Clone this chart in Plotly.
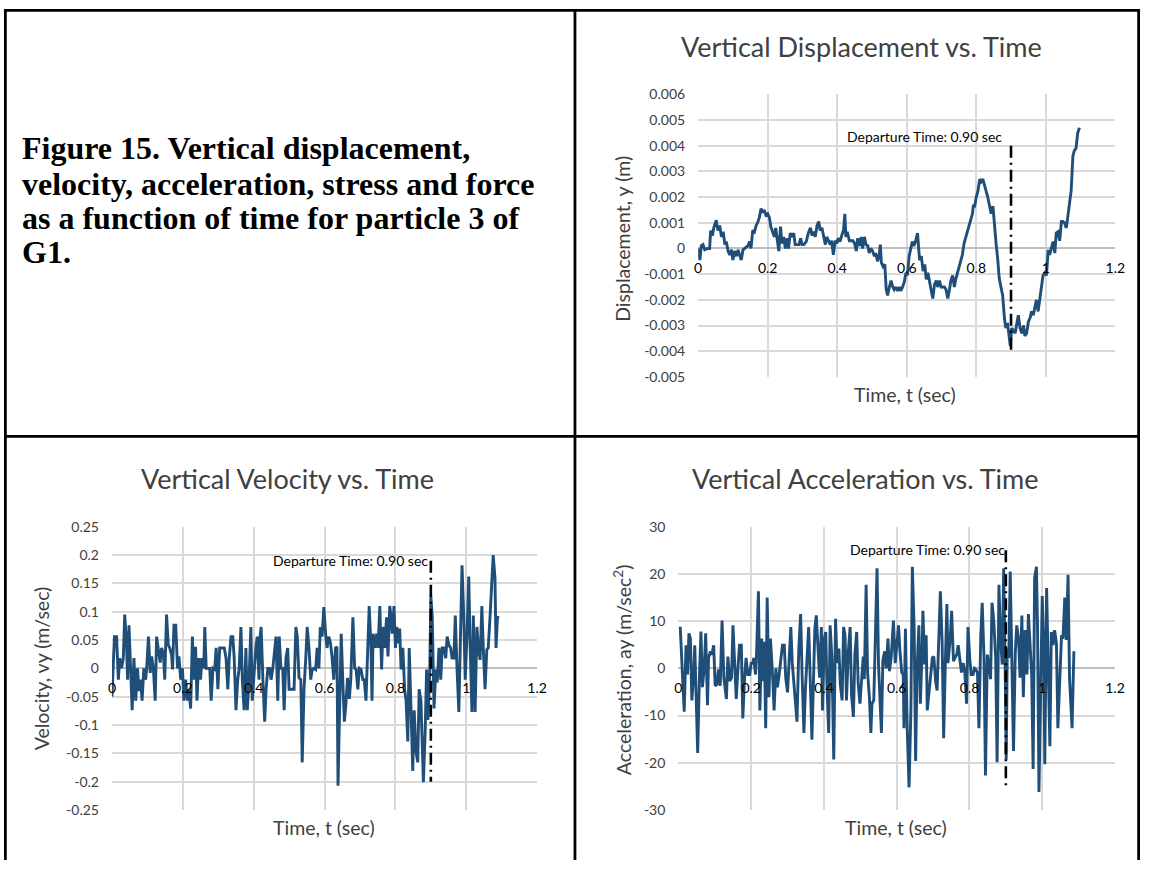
import plotly.graph_objects as go

# ---------------- data ----------------
# Vertical displacement (m) vs time (s)
disp_t = [0.000, 0.005, 0.009, 0.014, 0.019, 0.027, 0.033, 0.036, 0.041, 0.045, 0.052, 0.057, 0.062, 0.067,
          0.072, 0.077, 0.081, 0.086, 0.091, 0.096, 0.100, 0.105, 0.110, 0.115, 0.119, 0.124, 0.129, 0.135,
          0.143, 0.148, 0.152, 0.157, 0.162, 0.167, 0.171, 0.176, 0.181, 0.186, 0.190, 0.195, 0.200, 0.205,
          0.209, 0.214, 0.219, 0.223, 0.228, 0.232, 0.237, 0.241, 0.246, 0.251, 0.256, 0.260, 0.265, 0.270,
          0.275, 0.279, 0.285, 0.290, 0.295, 0.299, 0.304, 0.311, 0.317, 0.323, 0.328, 0.332, 0.337, 0.342,
          0.347, 0.351, 0.356, 0.361, 0.366, 0.370, 0.375, 0.380, 0.384, 0.389, 0.394, 0.399, 0.403, 0.408,
          0.413, 0.418, 0.422, 0.425, 0.429, 0.435, 0.439, 0.445, 0.450, 0.455, 0.459, 0.464, 0.469, 0.473,
          0.478, 0.483, 0.488, 0.492, 0.497, 0.502, 0.507, 0.511, 0.516, 0.521, 0.524, 0.527, 0.532, 0.537,
          0.541, 0.545, 0.550, 0.555, 0.560, 0.564, 0.569, 0.574, 0.579, 0.583, 0.588, 0.593, 0.598, 0.602,
          0.607, 0.612, 0.616, 0.621, 0.626, 0.631, 0.634, 0.637, 0.642, 0.647, 0.652, 0.656, 0.661, 0.666,
          0.670, 0.675, 0.680, 0.685, 0.689, 0.694, 0.699, 0.704, 0.708, 0.713, 0.718, 0.723, 0.727, 0.732,
          0.737, 0.741, 0.746, 0.751, 0.756, 0.760, 0.765, 0.770, 0.775, 0.779, 0.784, 0.789, 0.792, 0.795,
          0.800, 0.805, 0.810, 0.814, 0.819, 0.824, 0.829, 0.833, 0.838, 0.843, 0.848, 0.852, 0.857, 0.862,
          0.866, 0.871, 0.876, 0.881, 0.885, 0.890, 0.895, 0.898, 0.902, 0.907, 0.912, 0.917, 0.921, 0.926,
          0.931, 0.936, 0.940, 0.945, 0.950, 0.955, 0.959, 0.964, 0.969, 0.973, 0.978, 0.983, 0.988, 0.992,
          0.997, 1.002, 1.007, 1.011, 1.016, 1.021, 1.026, 1.030, 1.035, 1.040, 1.045, 1.049, 1.054, 1.059,
          1.063, 1.068, 1.073, 1.078, 1.082, 1.087, 1.092, 1.097]
disp_y = [0.0, -0.00045, 0.0001, 0.00015, -0.00005, 0.0, 0.0, 0.0007, 0.0005, 0.0008, 0.0011, 0.0007, 0.0009, 0.00045,
          0.00065, 0.00015, 0.00027, -0.0001, -0.00025, -0.00005, -0.00045, -0.0001, -0.0003, -0.00005, -0.00025, -0.00045, -0.00005, 0.0,
          0.0001, 0.00027, 0.0, 0.0007, 0.00065, 0.0009, 0.001, 0.0012, 0.00155, 0.0014, 0.0015, 0.0013, 0.00135, 0.0012,
          0.00085, 0.00065, 0.00045, 0.0008, 0.0003, -0.0001, 0.00085, 0.0002, 0.00045, 0.0, 0.0004, 0.0, 0.0006, 0.00045,
          0.0006, 0.00015, 0.00015, 0.00015, 0.0004, 0.00015, 0.00015, 0.00027, 0.0006, 0.0008, 0.0005, 0.00065, 0.00045, 0.0009,
          0.00105, 0.0007, 0.0008, 0.0004, 0.00015, 0.00045, 0.00027, 0.00015, 0.0003, -0.00025, 0.0003, 0.0002, 0.0004, 0.00027,
          0.0005, 0.0007, 0.00135, 0.00045, 0.00065, 0.0003, 0.0003, 0.0003, 0.0002, -0.0001, 0.0004, 0.0001, 0.00045, 0.0,
          0.00045, 0.00015, 0.0001, -0.00018, 0.0, -0.0001, -0.0003, -0.00018, -0.0005, -0.00025, 0.00015, -0.00055, -0.0007, -0.00062,
          -0.0016, -0.00183, -0.0015, -0.00125, -0.0015, -0.0016, -0.0015, -0.00165, -0.0015, -0.00165, -0.0015, -0.0013, -0.00095, -0.00105,
          -0.0003, 0.0001, 0.00027, 0.0001, 0.0003, 0.0006, 0.0002, -0.00045, -0.0003, -0.00088, -0.00062, -0.0012, -0.00095, -0.0014,
          -0.0016, -0.00195, -0.0014, -0.00125, -0.0015, -0.00125, -0.0015, -0.0015, -0.0015, -0.0016, -0.00195, -0.0016, -0.00125, -0.00105,
          -0.0015, -0.0012, -0.00095, -0.00075, -0.00045, -0.00025, 0.0002, 0.00045, 0.00065, 0.0009, 0.0012, 0.00135, 0.0017, 0.0016,
          0.002, 0.00225, 0.0027, 0.0026, 0.0027, 0.0024, 0.0022, 0.002, 0.00165, 0.00135, 0.00165, 0.00085, 0.0002, -0.00045,
          -0.00115, -0.0015, -0.00183, -0.0027, -0.0031, -0.0029, -0.0034, -0.0038, -0.0031, -0.0032, -0.0033, -0.0029, -0.0026, -0.0031,
          -0.0033, -0.003, -0.0034, -0.0033, -0.00285, -0.0027, -0.00245, -0.0026, -0.0022, -0.002, -0.00245, -0.002, -0.0016, -0.00105,
          -0.00095, -0.00105, -0.00005, -0.00025, 0.0, 0.00027, -0.00018, 0.0006, 0.00065, 0.0003, 0.00105, 0.00105, 0.001, 0.0008,
          0.0012, 0.00185, 0.00225, 0.0036, 0.0038, 0.0039, 0.0045, 0.0047]

# Vertical velocity (m/s) vs time (s)
vel_t = [0.000, 0.007, 0.013, 0.018, 0.022, 0.027, 0.032, 0.036, 0.041, 0.044, 0.048, 0.052, 0.057, 0.062,
         0.067, 0.072, 0.076, 0.081, 0.085, 0.090, 0.095, 0.098, 0.103, 0.108, 0.112, 0.117, 0.122, 0.126,
         0.131, 0.136, 0.140, 0.145, 0.149, 0.154, 0.159, 0.163, 0.168, 0.171, 0.175, 0.180, 0.185, 0.189,
         0.194, 0.199, 0.203, 0.208, 0.213, 0.217, 0.222, 0.227, 0.231, 0.236, 0.240, 0.245, 0.250, 0.254,
         0.259, 0.262, 0.266, 0.271, 0.276, 0.280, 0.285, 0.290, 0.294, 0.299, 0.304, 0.308, 0.313, 0.317,
         0.322, 0.327, 0.331, 0.336, 0.341, 0.345, 0.350, 0.355, 0.359, 0.364, 0.368, 0.373, 0.378, 0.382,
         0.387, 0.392, 0.396, 0.401, 0.406, 0.410, 0.415, 0.418, 0.421, 0.426, 0.431, 0.435, 0.440, 0.445,
         0.449, 0.454, 0.459, 0.463, 0.468, 0.472, 0.477, 0.482, 0.486, 0.491, 0.496, 0.500, 0.505, 0.510,
         0.514, 0.519, 0.523, 0.528, 0.533, 0.537, 0.542, 0.547, 0.551, 0.556, 0.561, 0.565, 0.570, 0.575,
         0.579, 0.584, 0.588, 0.593, 0.598, 0.603, 0.607, 0.612, 0.617, 0.621, 0.626, 0.631, 0.635, 0.638,
         0.643, 0.647, 0.652, 0.656, 0.660, 0.665, 0.670, 0.674, 0.680, 0.685, 0.689, 0.694, 0.698, 0.703,
         0.708, 0.712, 0.717, 0.722, 0.726, 0.731, 0.734, 0.737, 0.742, 0.747, 0.751, 0.756, 0.761, 0.765,
         0.770, 0.775, 0.779, 0.784, 0.788, 0.791, 0.796, 0.800, 0.804, 0.809, 0.812, 0.816, 0.821, 0.826,
         0.830, 0.835, 0.839, 0.844, 0.849, 0.853, 0.858, 0.863, 0.867, 0.872, 0.875, 0.879, 0.884, 0.888,
         0.892, 0.897, 0.900, 0.904, 0.909, 0.914, 0.918, 0.923, 0.928, 0.932, 0.937, 0.942, 0.946, 0.951,
         0.956, 0.960, 0.965, 0.969, 0.974, 0.979, 0.983, 0.988, 0.993, 0.997, 1.002, 1.007, 1.011, 1.016,
         1.020, 1.025, 1.030, 1.034, 1.039, 1.044, 1.048, 1.053, 1.058, 1.062, 1.067, 1.072, 1.076, 1.081,
         1.084, 1.088, 1.093]
vel_y = [-0.05, 0.056, 0.056, -0.02, 0.018, 0.0, 0.018, 0.095, 0.044, -0.02, 0.076, 0.004, -0.074, 0.018,
         -0.057, 0.0, -0.04, -0.02, -0.057, 0.0, -0.02, 0.0, 0.056, -0.008, 0.021, -0.002, -0.057, 0.056,
         0.036, 0.01, 0.036, 0.027, -0.02, 0.095, 0.041, 0.036, 0.024, -0.002, 0.076, 0.076, 0.0, 0.021,
         -0.02, 0.0, -0.057, -0.02, -0.057, -0.037, -0.071, 0.056, -0.02, 0.038, -0.057, 0.018, -0.02, 0.018,
         0.0, 0.073, 0.0, 0.0, 0.0, -0.057, 0.0, -0.002, 0.036, -0.037, 0.036, 0.036, 0.036, 0.036,
         0.018, -0.037, 0.018, 0.056, 0.056, 0.018, -0.074, -0.02, 0.0, 0.073, -0.02, -0.074, 0.036, -0.074,
         -0.02, 0.073, -0.057, 0.0, 0.036, 0.056, -0.02, 0.056, 0.073, -0.02, -0.094, -0.037, 0.0, 0.0,
         -0.02, 0.0, 0.036, 0.056, -0.057, 0.056, 0.0, 0.0, -0.074, 0.018, 0.036, -0.037, -0.037, -0.037,
         -0.037, 0.073, 0.056, -0.017, -0.02, -0.166, -0.037, 0.018, 0.073, 0.036, -0.02, -0.002, 0.0, -0.002,
         0.036, 0.0, 0.073, 0.056, 0.108, 0.061, 0.036, 0.056, 0.044, 0.021, -0.02, 0.036, 0.038, -0.207,
         -0.08, 0.061, -0.031, -0.094, -0.065, -0.017, -0.054, -0.02, 0.09, 0.0, -0.002, -0.037, 0.0, -0.002,
         -0.02, -0.02, -0.057, 0.036, 0.11, 0.038, -0.057, 0.061, 0.036, 0.061, 0.036, 0.11, -0.002, 0.073,
         0.036, 0.09, 0.021, 0.11, 0.09, 0.061, 0.11, 0.036, 0.073, 0.044, 0.07, -0.002, 0.036, -0.037,
         -0.057, -0.129, 0.036, -0.071, -0.181, -0.074, -0.146, -0.166, -0.037, -0.057, -0.129, -0.201, -0.112, -0.002,
         -0.091, -0.002, 0.128, 0.09, -0.071, -0.002, -0.025, 0.036, -0.02, 0.036, 0.036, 0.018, 0.056, 0.041,
         0.036, 0.018, 0.018, 0.093, -0.002, -0.077, 0.036, 0.182, 0.09, -0.02, 0.056, 0.162, 0.038, -0.077,
         0.093, -0.077, 0.073, 0.036, 0.015, 0.11, 0.036, -0.037, 0.033, 0.036, 0.09, 0.16, 0.2, 0.16,
         0.036, 0.09, 0.09]

# Vertical acceleration (m/s^2) vs time (s)
acc_t = [0.005, 0.012, 0.016, 0.021, 0.025, 0.029, 0.033, 0.037, 0.042, 0.045, 0.049, 0.053, 0.058, 0.062,
         0.066, 0.071, 0.075, 0.080, 0.083, 0.088, 0.092, 0.097, 0.101, 0.106, 0.110, 0.115, 0.120, 0.125,
         0.132, 0.136, 0.141, 0.146, 0.150, 0.155, 0.159, 0.164, 0.168, 0.173, 0.177, 0.182, 0.186, 0.191,
         0.196, 0.200, 0.205, 0.207, 0.212, 0.215, 0.220, 0.224, 0.229, 0.232, 0.236, 0.240, 0.244, 0.249,
         0.253, 0.259, 0.263, 0.268, 0.272, 0.277, 0.281, 0.286, 0.291, 0.295, 0.300, 0.304, 0.309, 0.313,
         0.318, 0.322, 0.326, 0.331, 0.336, 0.340, 0.345, 0.349, 0.354, 0.358, 0.363, 0.367, 0.371, 0.375,
         0.379, 0.384, 0.388, 0.393, 0.396, 0.401, 0.405, 0.408, 0.413, 0.417, 0.422, 0.427, 0.432, 0.436,
         0.441, 0.445, 0.450, 0.454, 0.458, 0.462, 0.467, 0.472, 0.476, 0.481, 0.485, 0.490, 0.494, 0.499,
         0.503, 0.508, 0.511, 0.516, 0.520, 0.525, 0.529, 0.532, 0.537, 0.540, 0.546, 0.550, 0.554, 0.558,
         0.562, 0.567, 0.571, 0.576, 0.580, 0.585, 0.591, 0.596, 0.600, 0.605, 0.609, 0.614, 0.618, 0.620,
         0.624, 0.629, 0.634, 0.639, 0.643, 0.648, 0.652, 0.656, 0.661, 0.665, 0.670, 0.672, 0.677, 0.681,
         0.684, 0.689, 0.693, 0.698, 0.702, 0.707, 0.711, 0.716, 0.720, 0.725, 0.729, 0.734, 0.738, 0.741,
         0.747, 0.751, 0.756, 0.760, 0.765, 0.769, 0.774, 0.778, 0.783, 0.787, 0.792, 0.796, 0.801, 0.805,
         0.810, 0.814, 0.817, 0.822, 0.826, 0.831, 0.835, 0.840, 0.844, 0.849, 0.853, 0.858, 0.862, 0.867,
         0.872, 0.876, 0.881, 0.885, 0.890, 0.894, 0.898, 0.901, 0.904, 0.908, 0.912, 0.917, 0.921, 0.926,
         0.930, 0.935, 0.939, 0.944, 0.948, 0.953, 0.958, 0.962, 0.967, 0.971, 0.975, 0.979, 0.984, 0.987,
         0.991, 0.996, 1.000, 1.004, 1.007, 1.012, 1.016, 1.021, 1.025, 1.030, 1.034, 1.039, 1.043, 1.048,
         1.053, 1.057, 1.062, 1.066, 1.071, 1.075, 1.080, 1.082, 1.087]
acc_y = [8.8, -4.0, -9.2, 4.9, -1.3, 7.4, 6.3, -6.8, -1.3, 4.9, -6.8, -17.9, -1.3, 7.8,
         -4.0, 0.0, 7.4, -7.8, 2.2, 3.6, 2.9, 4.9, -3.7, -3.4, -0.2, -3.7, 10.1, -2.0,
         -6.5, 2.5, -2.7, -2.0, 9.1, -1.3, -6.5, 0.4, 4.9, 4.9, -10.6, -2.0, 2.2, -1.3,
         -1.3, 1.1, 1.1, 2.2, -1.3, 3.6, 16.3, -8.9, 6.3, -2.7, 5.6, -12.7, 15.0, -6.1,
         6.3, -1.6, -8.9, 0.0, -4.0, -1.3, 2.2, 4.9, 4.9, -2.0, -5.1, 2.2, 8.75, 1.1,
         -3.4, -6.8, -11.3, 4.2, 11.5, -1.3, -13.7, -4.7, 1.5, 8.75, -4.0, -15.1, -3.4, 8.4,
         11.2, 2.2, -2.0, 8.75, -8.9, 6.3, 7.7, -2.7, -13.7, 9.1, 2.2, -19.3, 10.5, 1.1,
         4.2, -3.4, -6.8, 8.75, 7.0, -6.8, 3.6, 8.75, -5.8, -10.3, 2.9, 7.7, -3.0, -7.5,
         -3.4, 2.5, -2.3, 17.7, -0.9, -6.1, -13.7, -7.5, -6.8, 0.8, 21.2, 0.8, -7.5, -13.7,
         1.8, 3.6, 0.0, 6.3, -0.6, 2.5, 10.1, 1.1, 4.6, 9.1, 3.6, -0.9, -1.3, -12.7,
         8.4, -13.1, -25.2, -8.9, 21.5, 8.4, -19.6, 0.0, 9.1, -7.5, 4.2, 12.2, 0.8, 7.0,
         -8.9, -4.7, -2.0, 2.2, 2.5, -2.7, -4.7, 9.1, 16.3, 5.3, -14.8, 2.2, 13.6, 1.1,
         6.3, 12.2, 1.5, 2.2, 2.9, 4.9, 1.1, -0.9, 1.1, -0.6, -7.5, 8.75, 1.8, -1.3,
         -1.3, 0.0, -0.2, -0.9, -12.7, 6.7, 13.9, 2.2, -22.7, 2.9, 1.1, -2.3, 13.9, 9.8,
         2.2, -19.9, 17.7, 7.0, 0.8, 21.2, 0.8, -19.3, 4.2, 2.2, 20.5, -0.6, -17.5, 3.6,
         9.1, 6.0, -2.0, 11.2, -6.1, 8.1, -1.3, 11.5, 5.3, -1.3, -21.3, 19.1, 21.5, 9.1,
         -26.2, -2.7, 15.3, 4.2, -20.3, 17.0, -0.6, -16.5, 7.7, 4.9, 8.1, 5.3, -12.7, -2.3,
         7.0, 6.3, 15.0, 6.0, 19.8, -2.0, -12.7, -12.7, 3.6]

# departure instant and the extent of its marker line on each chart
departure_t = 0.90
departure_label = "Departure Time: 0.90 sec"
disp_marker_y = [0.004, -0.004]
vel_marker_y = [0.19, -0.2]
acc_marker_y = [25, -25]

# axis ticks
time_ticks = [0, 0.2, 0.4, 0.6, 0.8, 1.0, 1.2]
time_labels = ["0", "0.2", "0.4", "0.6", "0.8", "1", "1.2"]
disp_ticks = [-0.005, -0.004, -0.003, -0.002, -0.001, 0, 0.001, 0.002, 0.003, 0.004, 0.005, 0.006]
disp_labels = ["-0.005", "-0.004", "-0.003", "-0.002", "-0.001", "0", "0.001", "0.002", "0.003", "0.004",
               "0.005", "0.006"]
vel_ticks = [-0.25, -0.2, -0.15, -0.1, -0.05, 0, 0.05, 0.1, 0.15, 0.2, 0.25]
vel_labels = ["-0.25", "-0.2", "-0.15", "-0.1", "-0.05", "0", "0.05", "0.1", "0.15", "0.2", "0.25"]
acc_ticks = [-30, -20, -10, 0, 10, 20, 30]
acc_labels = ["-30", "-20", "-10", "0", "10", "20", "30"]

caption_lines = ["Figure 15. Vertical displacement,",
                 "velocity, acceleration, stress and force",
                 "as a function of time for particle 3 of",
                 "G1."]

# ---------------- styling ----------------
# The page keeps the browser's 8px body margin, so the figure is sized to fill
# the window exactly with that margin around it; layout positions below are
# given in window pixels and converted to paper coordinates.
PAGE_W, PAGE_H = 1166, 884
PAGE_MARGIN = 8
W, H = PAGE_W - 2 * PAGE_MARGIN, PAGE_H - 2 * PAGE_MARGIN
FONT = "Lato, Carlito, 'Open Sans', sans-serif"
SERIF = "'Liberation Serif', 'Times New Roman', serif"
SERIES = "#1f4e79"
GRID = "#d9d9d9"
TXT = "#404040"


def px(x):
    return min(max((x - PAGE_MARGIN) / W, 0.0), 1.0)


def py(y):
    return min(max(1 - (y - PAGE_MARGIN) / H, 0.0), 1.0)


fig = go.Figure()


def add_panel(n, t, y, marker_y, y_range, y_ticks, y_labels, xdom, ydom, zero_py):
    xa = "x" if n == 1 else f"x{n}"
    ya = "y" if n == 1 else f"y{n}"
    fig.add_trace(go.Scatter(x=t, y=y, mode="lines", xaxis=xa, yaxis=ya,
                             line=dict(color=SERIES, width=2.9), showlegend=False, hoverinfo="x+y"))
    fig.add_trace(go.Scatter(x=[departure_t, departure_t], y=marker_y, mode="lines", xaxis=xa, yaxis=ya,
                             line=dict(color="black", width=2.6, dash="12px,5px,2px,5px"),
                             showlegend=False, hoverinfo="skip"))
    xkey = "xaxis" if n == 1 else f"xaxis{n}"
    ykey = "yaxis" if n == 1 else f"yaxis{n}"
    fig.update_layout({
        xkey: dict(domain=[px(xdom[0]), px(xdom[1])], range=[0, 1.2], anchor="free", position=py(zero_py),
                   tickvals=time_ticks, ticktext=time_labels, showgrid=True, gridcolor=GRID, gridwidth=1.6,
                   zeroline=False, showline=False, ticks="", ticklabelstandoff=10,
                   tickfont=dict(family=FONT, size=14, color="#000000")),
        ykey: dict(domain=[py(ydom[1]), py(ydom[0])], range=y_range, anchor=xa,
                   tickvals=y_ticks, ticktext=y_labels, showgrid=True, gridcolor=GRID, gridwidth=1.6,
                   zeroline=True, zerolinecolor="#bfbfbf", zerolinewidth=1.6, showline=False, ticks="",
                   ticklabelstandoff=12, tickfont=dict(family=FONT, size=14, color=TXT)),
    })


add_panel(1, disp_t, disp_y, disp_marker_y, [-0.005, 0.006], disp_ticks, disp_labels,
          (710.7, 1133), (95, 383.3), 252)
add_panel(2, vel_t, vel_y, vel_marker_y, [-0.25, 0.25], vel_ticks, vel_labels,
          (117.3, 547.7), (536, 825), 680.5)
add_panel(3, acc_t, acc_y, acc_marker_y, [-30, 30], acc_ticks, acc_labels,
          (690.7, 1132.7), (536, 825), 680.5)

annotations = []


def text(x, y, s, size, angle=0, color=TXT, family=FONT, xanchor="center"):
    annotations.append(dict(x=px(x), y=py(y), xref="paper", yref="paper", text=s, showarrow=False,
                            textangle=angle, font=dict(family=family, size=size, color=color),
                            xanchor=xanchor, yanchor="middle"))


# chart titles
text(876, 46, "Vertical Displacement vs. Time", 27)
text(295, 487, "Vertical Velocity vs. Time", 27)
text(880, 487, "Vertical Acceleration vs. Time", 27)
# axis titles
text(634, 242, "Displacement, y (m)", 19.5, angle=-90)
text(46, 681, "Velocity, vy (m/sec)", 19.5, angle=-90)
text(634, 682, "Acceleration, ay (m/sec<sup>2</sup>)", 19.5, angle=-90)
text(920, 401, "Time, t (sec)", 19.5)
text(332, 843, "Time, t (sec)", 19.5)
text(911, 843, "Time, t (sec)", 19.5)
# figure caption, one line at a time
for line, yc in zip(caption_lines, [150, 186, 221, 256]):
    text(24, yc, "<b>" + line + "</b>", 32, color="#000000", family=SERIF, xanchor="left")

# departure labels (data coordinates)
for xr, yr, lx, ly in [("x", "y", 0.879, 0.00435), ("x2", "y2", 0.897, 0.19), ("x3", "y3", 0.904, 25.2)]:
    annotations.append(dict(x=lx, y=ly, xref=xr, yref=yr, text=departure_label, showarrow=False,
                            xanchor="right", yanchor="middle",
                            font=dict(family=FONT, size=14, color="#000000")))

# table frame around the panels
BORDER = dict(color="black", width=2.8)
shapes = []
for x0, y0, x1, y1 in [(8, 9.4, 1158, 9.4), (9.4, 8, 9.4, 876), (1156.6, 8, 1156.6, 876),
                       (586, 8, 586, 876), (8, 444, 1158, 444)]:
    shapes.append(dict(type="line", xref="paper", yref="paper", x0=px(x0), y0=py(y0), x1=px(x1), y1=py(y1),
                       line=BORDER, layer="above"))

fig.update_layout(width=W, height=H, margin=dict(l=0, r=0, t=0, b=0), paper_bgcolor="white",
                  plot_bgcolor="white", annotations=annotations, shapes=shapes, showlegend=False,
                  font=dict(family=FONT))

fig.write_html("out.html")
